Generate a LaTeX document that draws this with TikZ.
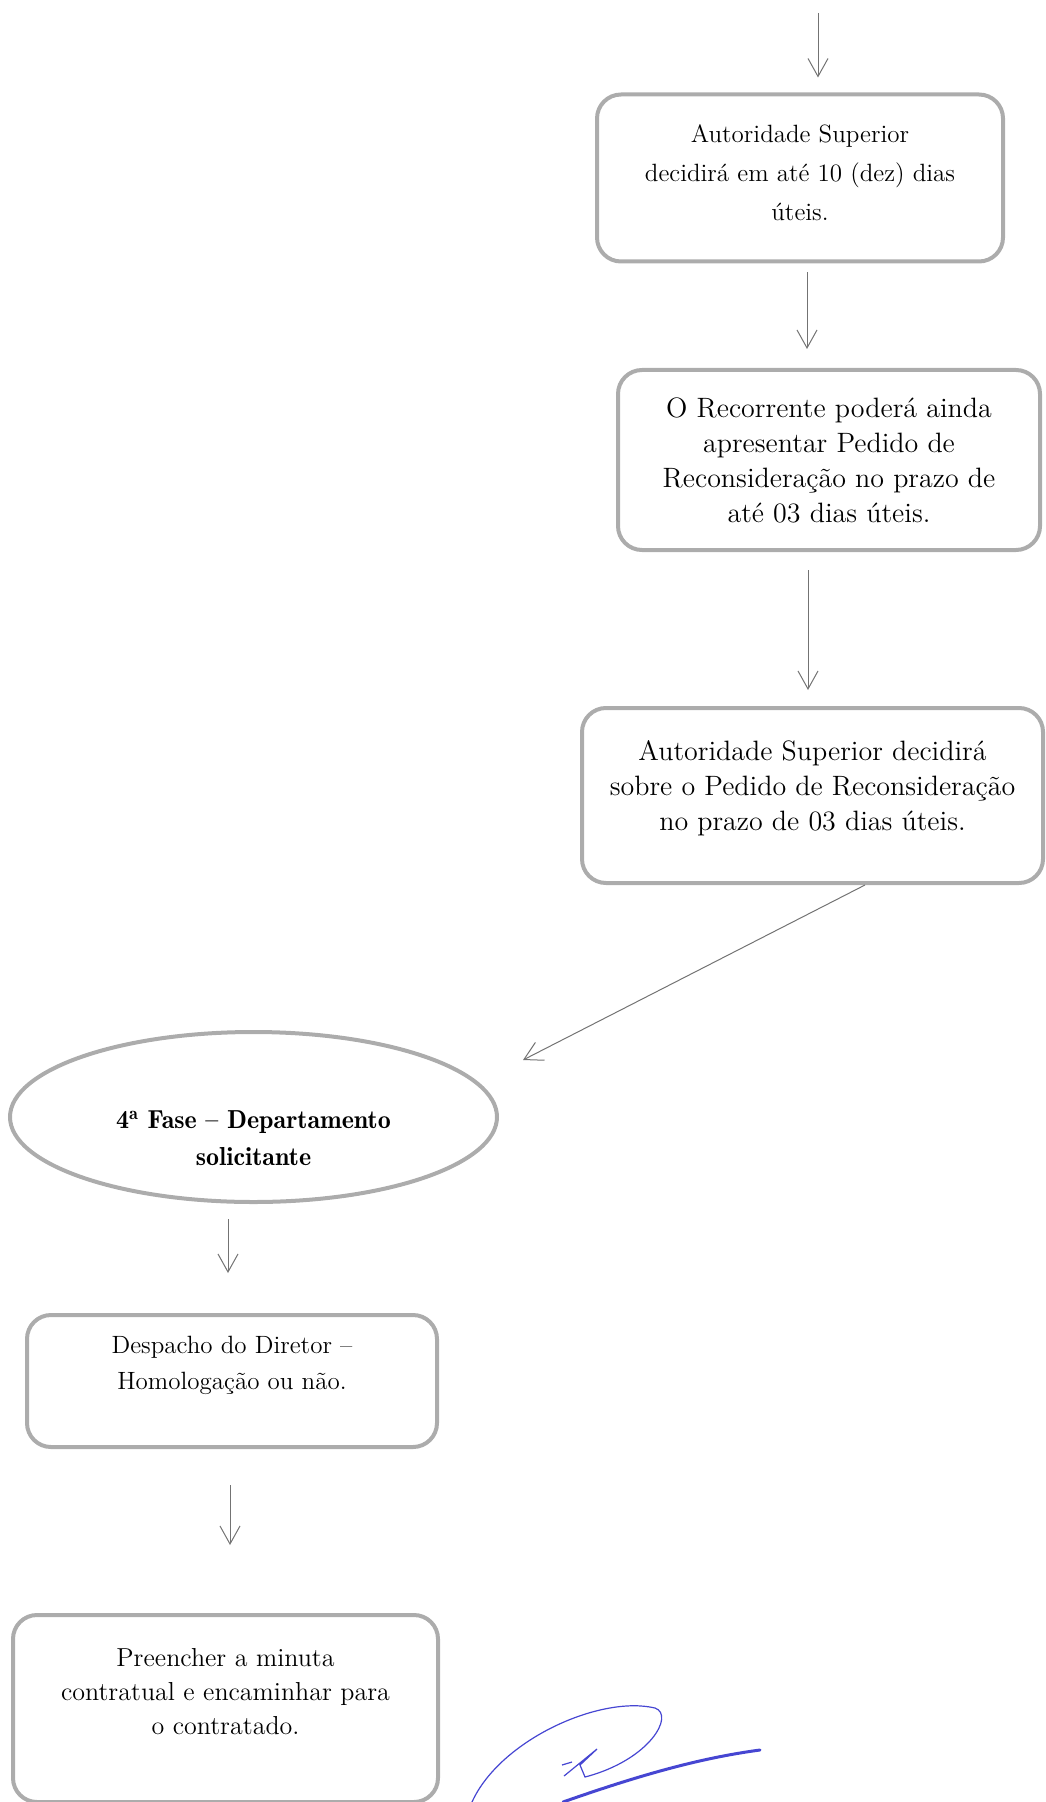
\documentclass[tikz,border=0pt]{standalone}
\usepackage{tikz}
\usetikzlibrary{shapes, positioning, arrows.meta}
\definecolor{caneta}{RGB}{70,70,210}

\begin{document}
\begin{tikzpicture}[x=0.5pt, y=-0.5pt,
        caixa/.style={rectangle, rounded corners=12pt, draw=gray!65, line width=2pt, align=center, inner sep=0pt, font=\fontsize{14}{17.5}\selectfont},
        fase/.style={ellipse, draw=gray!65, line width=2pt, align=center, inner sep=0pt, font=\fontseries{b}\fontsize{13}{18.4}\selectfont},
        seta/.style={draw=gray!90!black, line width=0.5pt, -{Straight Barb[length=9pt, width=10pt]}}]
        \useasboundingbox (0,0) rectangle (1045,1802);

        \coordinate (topo) at (818,13);
        \node[caixa, minimum width=203pt, minimum height=83.5pt, font=\fontsize{12.5}{19.5}\selectfont] (a) at (800,178) {Autoridade Superior\\decidirá em até 10 (dez) dias\\úteis.\rule[-5pt]{0pt}{5pt}};
        \node[caixa, minimum width=211pt, minimum height=90pt] (b) at (829,460) {O Recorrente poderá ainda\\apresentar Pedido de\\Reconsideração no prazo de\\até 03 dias úteis.};
        \node[caixa, minimum width=230.5pt, minimum height=87.5pt] (c) at (812.5,795.5) {Autoridade Superior decidirá\\sobre o Pedido de Reconsideração\\no prazo de 03 dias úteis.\rule[-10pt]{0pt}{10pt}};
        \coordinate (d) at (523,1060);
        \node[fase, minimum width=243.5pt, minimum height=85pt] (e) at (253.5,1117) {\rule{0pt}{30pt}4\textsuperscript{a} Fase -- Departamento\\solicitante};
        \node[caixa, minimum width=205pt, minimum height=66pt, font=\fontsize{12.5}{17.8}\selectfont] (f) at (232,1381) {Despacho do Diretor --\\Homologação ou não.\rule[-18pt]{0pt}{18pt}};
        \node[caixa, minimum width=212.5pt, minimum height=93.5pt, font=\fontsize{13}{17}\selectfont] (g) at (225.5,1708.5) {Preencher a minuta\\contratual e encaminhar para\\o contratado.\rule[-17pt]{0pt}{17pt}};

        \draw[seta, shorten >=7.5pt] (topo) -- (a.north -| topo);
        \draw[seta, shorten <=4.5pt, shorten >=9.5pt] (a.south -| 807,0) -- (b.north -| 807,0);
        \draw[seta, shorten <=9pt, shorten >=8pt] (b.south -| 808,0) -- (c.north -| 808,0);
        \draw[seta] (c.south -| 865,0) -- (d);
        \draw[seta, shorten <=7.5pt, shorten >=20pt] (e.south -| 228,0) -- (f.north -| 228,0);
        \draw[seta, shorten <=18pt, shorten >=34pt] (f.south -| 230,0) -- (g.north -| 230,0);

        % assinatura
        \draw[caneta, line width=0.6pt] (472,1802) .. controls (500,1740) and (600,1695) .. (655,1708)
            .. controls (675,1715) and (650,1760) .. (585,1777) -- (580,1765) -- (597,1749) -- (564,1776);
        \draw[caneta, line width=0.6pt] (562,1765) -- (572,1762);
        \draw[caneta, line width=1.5pt, line cap=round] (563,1802) .. controls (640,1775) and (700,1758) .. (760,1750);
\end{tikzpicture}
\end{document}
